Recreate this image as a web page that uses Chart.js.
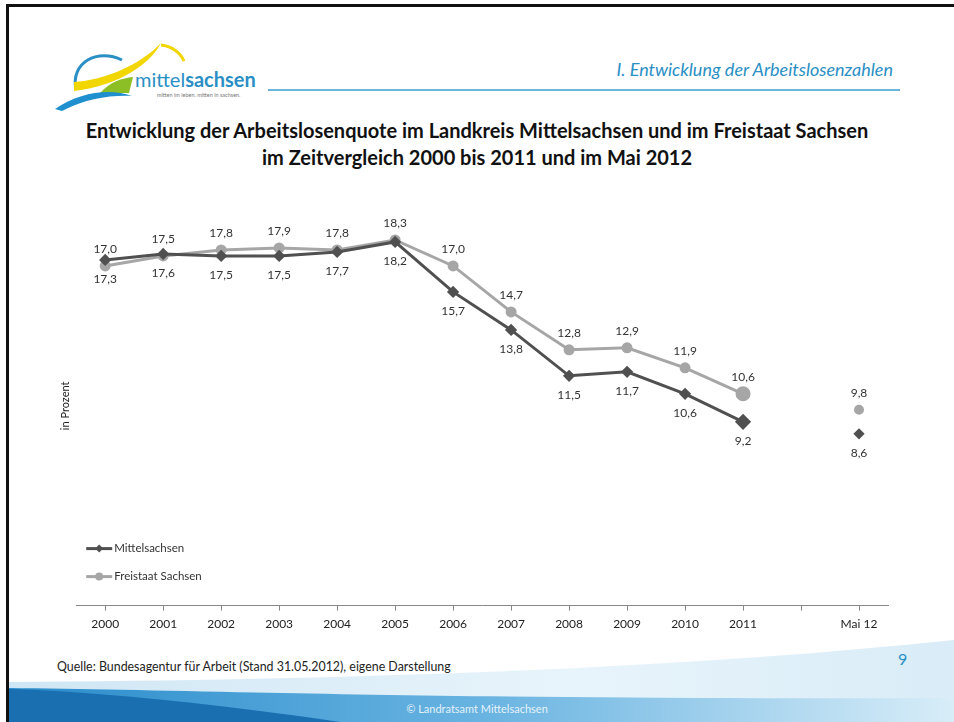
<!DOCTYPE html>
<html>
<head>
<meta charset="utf-8">
<script src="https://cdn.jsdelivr.net/npm/chart.js@4/dist/chart.umd.min.js"></script>
<style>
  html, body { margin: 0; padding: 0; background: #fff; }
  body { width: 954px; height: 722px; position: relative; overflow: hidden; font-family: Lato, "Noto Sans", sans-serif; }
  .abs { position: absolute; }
  #frameTop { left: 6px; top: 4px; width: 948px; height: 3px; background: #111; }
  #frameLeft { left: 6px; top: 4px; width: 3px; height: 718px; background: #111; }
  #section { right: 61px; top: 58px; color: #2a8fc5; font-style: italic; font-size: 18px; }
  #rule { left: 268px; top: 89px; width: 632px; height: 2px; background: #6cb6db; }
  #title { left: 0; width: 954px; top: 117px; text-align: center; font-weight: bold; font-size: 20px; line-height: 27px; color: #111; }
  #source { left: 57px; top: 659px; font-size: 12.4px; color: #222; }
  #pageNo { left: 898px; top: 649px; font-size: 16px; color: #2a8fc5; }
  #copy { left: 0; width: 954px; top: 702px; text-align: center; font-size: 11px; color: rgba(255,255,255,0.85); }
  #chartBox { left: 0; top: 0; width: 954px; height: 722px; }
</style>
</head>
<body>
<svg class="abs" style="left:0;top:0" width="954" height="722">
  <defs>
    <linearGradient id="gMid" x1="0" x2="1" y1="0" y2="0">
      <stop offset="0" stop-color="#2a8ccb"/>
      <stop offset="0.5" stop-color="#68b3e1"/>
      <stop offset="1" stop-color="#d8edf8"/>
    </linearGradient>
    <linearGradient id="gLight" x1="0" x2="1" y1="0" y2="0">
      <stop offset="0" stop-color="#cfe6f4"/>
      <stop offset="0.6" stop-color="#e8f4fb"/>
      <stop offset="1" stop-color="#d9ecf7"/>
    </linearGradient>
  </defs>
  <!-- logo -->
  <path d="M76,90 C70,62 98,48 122,60" stroke="#2a8fc5" stroke-width="3" fill="none"/>
  <path d="M74,82 C105,80 140,65 161,43 C152,62 120,86 74,91 Z" fill="#f2d600"/>
  <path d="M161,45 C171,46 180,52 184,61" stroke="#f2d600" stroke-width="3" fill="none"/>
  <path d="M100,93 C110,82 122,78 133,77 L129,93 Z" fill="#8cbf26"/>
  <path d="M55,109 C80,92 110,88 132,96 C110,95 85,99 62,111 Z" fill="#1f8fcf"/>
  <text x="135" y="87" font-family="Lato, sans-serif" font-size="20" fill="#2a8fc5">mittel<tspan font-weight="bold">sachsen</tspan></text>
  <text x="157" y="97" font-family="Lato, sans-serif" font-size="5.5" fill="#777">mitten im leben. mitten in sachsen.</text>
  <!-- footer swoosh -->
  <path d="M8,682 C300,680 650,672 954,640 L954,722 L8,722 Z" fill="url(#gLight)"/>
  <path d="M8,688 C200,690 450,700 954,698 L954,722 L8,722 Z" fill="url(#gMid)"/>
  <path d="M8,689 C110,692 220,705 340,722 L8,722 Z" fill="#1a6fb0"/>
</svg>
<div class="abs" id="frameTop"></div>
<div class="abs" id="frameLeft"></div>
<div class="abs" id="section">I. Entwicklung der Arbeitslosenzahlen</div>
<div class="abs" id="rule"></div>
<div class="abs" id="title">Entwicklung der Arbeitslosenquote im Landkreis Mittelsachsen und im Freistaat Sachsen<br>im Zeitvergleich 2000 bis 2011 und im Mai 2012</div>
<div class="abs" id="source">Quelle: Bundesagentur für Arbeit (Stand 31.05.2012), eigene Darstellung</div>
<div class="abs" id="pageNo">9</div>
<div class="abs" id="copy">© Landratsamt Mittelsachsen</div>
<div class="abs" id="chartBox"><canvas id="chart"></canvas></div>

<script>
// categories (empty slot separates the yearly values from May 2012)
const labels = ["2000", "2001", "2002", "2003", "2004", "2005", "2006", "2007", "2008", "2009", "2010", "2011", "", "Mai 12"]
// unemployment rate in percent
const mittelsachsen = [17.3, 17.6, 17.5, 17.5, 17.7, 18.2, 15.7, 13.8, 11.5, 11.7, 10.6, 9.2, null, 8.6]
const sachsen = [17.0, 17.5, 17.8, 17.9, 17.8, 18.3, 17.0, 14.7, 12.8, 12.9, 11.9, 10.6, null, 9.8]

const darkColor = "#505050"
const lightColor = "#a6a6a6"
const fontFamily = "Lato, 'Noto Sans', sans-serif"

const fmt = (v) => v.toFixed(1).replace(".", ",")

// marker size: 2011 highlighted, May 2012 a bit smaller
const markerSize = (i) => (i === 11 ? 6 : i === 13 ? 3.5 : 4)

// value labels: Sachsen above the point, Mittelsachsen below
const valueLabels = {
  id: "valueLabels",
  afterDatasetsDraw(chart) {
    const ctx = chart.ctx
    ctx.save()
    ctx.font = "12px " + fontFamily
    ctx.fillStyle = "#333"
    ctx.textAlign = "center"
    ctx.textBaseline = "middle"
    chart.data.datasets.forEach((ds, i) => {
      const meta = chart.getDatasetMeta(i)
      meta.data.forEach((pt, j) => {
        const v = ds.data[j]
        if (v === null) return
        const dy = ds.labelAbove ? -17 : 19
        ctx.fillText(fmt(v), pt.x, pt.y + dy)
      })
    })
    ctx.restore()
  },
}

// legend sitting inside the plot, bottom left
const innerLegend = {
  id: "innerLegend",
  afterDraw(chart) {
    const ctx = chart.ctx
    const a = chart.chartArea
    ctx.save()
    ctx.font = "11.5px " + fontFamily
    ctx.textBaseline = "middle"
    ctx.textAlign = "left"
    chart.data.datasets.forEach((ds, i) => {
      const y = a.bottom - 57 + i * 28
      const x0 = a.left + 10
      ctx.strokeStyle = ds.borderColor
      ctx.lineWidth = 3
      ctx.beginPath()
      ctx.moveTo(x0, y)
      ctx.lineTo(x0 + 26, y)
      ctx.stroke()
      ctx.fillStyle = ds.borderColor
      ctx.beginPath()
      if (ds.pointStyle === "rectRot") {
        ctx.moveTo(x0 + 13, y - 4)
        ctx.lineTo(x0 + 17, y)
        ctx.lineTo(x0 + 13, y + 4)
        ctx.lineTo(x0 + 9, y)
      } else {
        ctx.arc(x0 + 13, y, 4, 0, Math.PI * 2)
      }
      ctx.fill()
      ctx.fillStyle = "#333"
      ctx.fillText(ds.label, x0 + 28, y)
    })
    ctx.restore()
  },
}

new Chart(document.getElementById("chart"), {
  type: "line",
  data: {
    labels: labels,
    datasets: [
      {
        label: "Mittelsachsen",
        data: mittelsachsen,
        borderColor: darkColor,
        backgroundColor: darkColor,
        borderWidth: 3,
        pointStyle: "rectRot",
        pointRadius: mittelsachsen.map((v, i) => markerSize(i)),
        spanGaps: false,
        labelAbove: false,
      },
      {
        label: "Freistaat Sachsen",
        data: sachsen,
        borderColor: lightColor,
        backgroundColor: lightColor,
        borderWidth: 3,
        pointStyle: "circle",
        pointRadius: sachsen.map((v, i) => markerSize(i)),
        spanGaps: false,
        labelAbove: true,
      },
    ],
  },
  options: {
    responsive: true,
    maintainAspectRatio: false,
    animation: false,
    layout: { padding: { left: 59, right: 66, top: 206, bottom: 85 } },
    plugins: { legend: { display: false }, tooltip: { enabled: false } },
    scales: {
      x: {
        offset: true,
        grid: { display: true, offset: false, drawOnChartArea: false, drawTicks: true, tickLength: 5, color: "#888" },
        border: { display: true, color: "#888", width: 1 },
        ticks: { color: "#222", font: { family: fontFamily, size: 12 }, padding: 6, maxRotation: 0, autoSkip: false },
      },
      y: {
        min: 0,
        max: 20,
        grid: { display: false, drawTicks: false },
        border: { display: false },
        ticks: { display: false },
        title: { display: true, text: "in Prozent", color: "#222", font: { family: fontFamily, size: 11 }, padding: { top: 0, bottom: 4 } },
      },
    },
  },
  plugins: [valueLabels, innerLegend],
})
</script>
</body>
</html>
